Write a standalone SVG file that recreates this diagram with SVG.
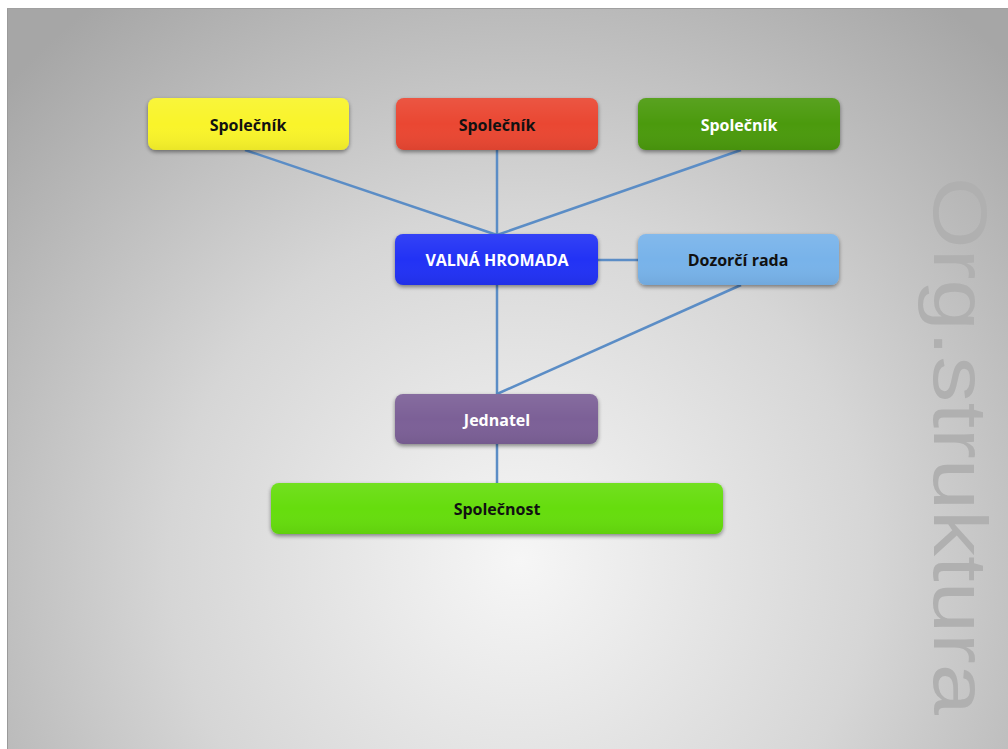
<svg xmlns="http://www.w3.org/2000/svg" width="1008" height="749" viewBox="0 0 1008 749">
<defs>
<radialGradient id="bg" gradientUnits="userSpaceOnUse" cx="520" cy="560" r="700">
<stop offset="0" stop-color="#f6f6f6"/>
<stop offset="0.5" stop-color="#d6d6d6"/>
<stop offset="1" stop-color="#a6a6a6"/>
</radialGradient>
<linearGradient id="gloss" x1="0" y1="0" x2="0" y2="1">
<stop offset="0" stop-color="#ffffff" stop-opacity="0.08"/>
<stop offset="0.5" stop-color="#ffffff" stop-opacity="0"/>
<stop offset="1" stop-color="#000000" stop-opacity="0.06"/>
</linearGradient>
<filter id="sh" x="-10%" y="-20%" width="120%" height="150%">
<feGaussianBlur in="SourceAlpha" stdDeviation="2"/>
<feOffset dx="0" dy="2" result="b"/>
<feComponentTransfer><feFuncA type="linear" slope="0.45"/></feComponentTransfer>
<feMerge><feMergeNode/><feMergeNode in="SourceGraphic"/></feMerge>
</filter>
</defs>
<style>
.box{filter:url(#sh);}
.gl{fill:url(#gloss);}
.lbl{font-family:"Open Sans","Liberation Sans",sans-serif;font-weight:bold;font-size:16px;text-anchor:middle;}
.dk{fill:#111111;}
.wt{fill:#ffffff;}
.conn line{stroke:#5b8dc6;stroke-width:2.5;fill:none;}
</style>
<rect x="0" y="0" width="1008" height="749" fill="#ffffff"/>
<rect x="7" y="8" width="1001" height="741" fill="url(#bg)"/>
<line x1="7.5" y1="8" x2="7.5" y2="749" stroke="#9a9a9a" stroke-width="1"/>
<line x1="7" y1="8.5" x2="1008" y2="8.5" stroke="#a0a0a0" stroke-width="1"/>
<text transform="translate(934,177) rotate(90)" x="0" y="0" font-family="Liberation Sans, Arial, sans-serif" font-weight="400" font-size="76" fill="#b0b0b0" textLength="538" lengthAdjust="spacingAndGlyphs">Org.struktura</text>
<g class="conn">
<line x1="245" y1="150" x2="497" y2="235"/>
<line x1="497" y1="150" x2="497" y2="235"/>
<line x1="741" y1="150" x2="497" y2="235"/>
<line x1="598" y1="260" x2="638" y2="260"/>
<line x1="497" y1="285" x2="497" y2="394"/>
<line x1="741" y1="285" x2="497" y2="394"/>
<line x1="497" y1="444" x2="497" y2="483"/>
</g>
<g id="spolecnik1">
<rect class="box" x="148" y="98" width="201" height="52" rx="8" fill="#f9f42c"/>
<rect class="gl" x="148" y="98" width="201" height="52" rx="8"/>
<text class="lbl dk" x="248" y="131">Společník</text>
</g>
<g id="spolecnik2">
<rect class="box" x="396" y="98" width="202" height="52" rx="8" fill="#ea4630"/>
<rect class="gl" x="396" y="98" width="202" height="52" rx="8"/>
<text class="lbl dk" x="497" y="131">Společník</text>
</g>
<g id="spolecnik3">
<rect class="box" x="638" y="98" width="202" height="52" rx="8" fill="#4b9a0c"/>
<rect class="gl" x="638" y="98" width="202" height="52" rx="8"/>
<text class="lbl wt" x="739" y="131">Společník</text>
</g>
<g id="valna">
<rect class="box" x="395" y="234" width="203" height="51" rx="8" fill="#2233f5"/>
<rect class="gl" x="395" y="234" width="203" height="51" rx="8"/>
<text class="lbl wt" x="497" y="266">VALNÁ HROMADA</text>
</g>
<g id="dozorci">
<rect class="box" x="638" y="234" width="201" height="51" rx="8" fill="#78b3ea"/>
<rect class="gl" x="638" y="234" width="201" height="51" rx="8"/>
<text class="lbl dk" x="738" y="266">Dozorčí rada</text>
</g>
<g id="jednatel">
<rect class="box" x="395" y="394" width="203" height="50" rx="8" fill="#7c6197"/>
<rect class="gl" x="395" y="394" width="203" height="50" rx="8"/>
<text class="lbl wt" x="497" y="426">Jednatel</text>
</g>
<g id="spolecnost">
<rect class="box" x="271" y="483" width="452" height="51" rx="8" fill="#66dd0e"/>
<rect class="gl" x="271" y="483" width="452" height="51" rx="8"/>
<text class="lbl dk" x="497" y="515">Společnost</text>
</g>
</svg>
